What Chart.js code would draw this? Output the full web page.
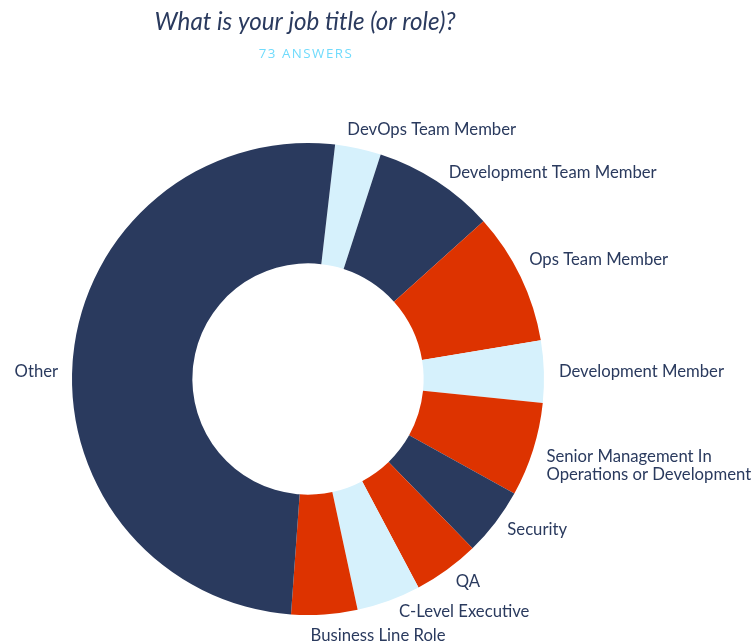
<!DOCTYPE html>
<html>
<head>
<meta charset="utf-8">
<script src="https://cdn.jsdelivr.net/npm/chart.js@4"></script>
<style>
  html, body { margin: 0; padding: 0; background: #fff; }
  #wrap { width: 756px; height: 644px; }
</style>
</head>
<body>
<div id="wrap"><canvas id="myChart"></canvas></div>
<script>
const titleText = 'What is your job title (or role)?';
const subtitleText = '73 ANSWERS';

const roles = [
  'DevOps Team Member',
  'Development Team Member',
  'Ops Team Member',
  'Development Member',
  ['Senior Management In', 'Operations or Development'],
  'Security',
  'QA',
  'C-Level Executive',
  'Business Line Role',
  'Other'
];
const answers = [2.3, 6.1, 6.6, 3.1, 4.7, 3.4, 3.3, 3.2, 3.3, 37.0];

const NAVY = '#2a3a5e';
const RED = '#dd3300';
const SKY = '#d6f1fc';
const sliceColors = [SKY, NAVY, RED, SKY, RED, NAVY, RED, SKY, RED, NAVY];

// small hand nudges so labels sit where the original put them
const labelNudge = {
  0: [-14, -4],
  1: [4, 4],
  2: [-5, -11],
  4: [-1, 11],
  5: [0, -2],
  7: [5, -3],
  8: [-15, 6],
  9: [0, 16]
};

const headerPlugin = {
  id: 'header',
  afterDraw(chart) {
    const ctx = chart.ctx;
    const cx = (chart.chartArea.left + chart.chartArea.right) / 2;
    ctx.save();
    ctx.textAlign = 'center';
    ctx.textBaseline = 'middle';
    ctx.fillStyle = NAVY;
    ctx.font = 'italic 24.2px Lato';
    ctx.fillText(titleText, cx - 3, 22);
    ctx.fillStyle = '#70dbfc';
    ctx.font = '13.3px "Open Sans"';
    ctx.letterSpacing = '1.5px';
    ctx.fillText(subtitleText, cx - 2, 54);
    ctx.restore();
  }
};

// outside labels, anchored at each arc's mid angle
const sliceLabels = {
  id: 'sliceLabels',
  afterDatasetsDraw(chart) {
    const ctx = chart.ctx;
    const meta = chart.getDatasetMeta(0);
    ctx.save();
    ctx.font = '16.7px Lato';
    ctx.fillStyle = NAVY;
    ctx.textBaseline = 'middle';
    meta.data.forEach((arc, i) => {
      const p = arc.getProps(['x', 'y', 'startAngle', 'endAngle', 'outerRadius'], true);
      const mid = (p.startAngle + p.endAngle) / 2;
      const r = p.outerRadius + 15;
      const nudge = labelNudge[i] || [0, 0];
      const x = p.x + Math.cos(mid) * r + nudge[0];
      const y = p.y + Math.sin(mid) * r + nudge[1];
      ctx.textAlign = Math.cos(mid) >= -0.01 ? 'left' : 'right';
      const lines = Array.isArray(roles[i]) ? roles[i] : [roles[i]];
      const lh = 18;
      lines.forEach((line, j) => {
        ctx.fillText(line, x, y + (j - (lines.length - 1) / 2) * lh);
      });
    });
    ctx.restore();
  }
};

new Chart(document.getElementById('myChart'), {
  type: 'doughnut',
  data: {
    labels: roles,
    datasets: [{
      data: answers,
      backgroundColor: sliceColors,
      borderWidth: 0,
      hoverOffset: 0
    }]
  },
  options: {
    responsive: true,
    maintainAspectRatio: false,
    animation: false,
    rotation: 6.6,
    cutout: '49%',
    layout: { padding: { left: 72, right: 212, top: 143, bottom: 29 } },
    plugins: {
      legend: { display: false },
      tooltip: { enabled: false }
    }
  },
  plugins: [headerPlugin, sliceLabels]
});
</script>
</body>
</html>
